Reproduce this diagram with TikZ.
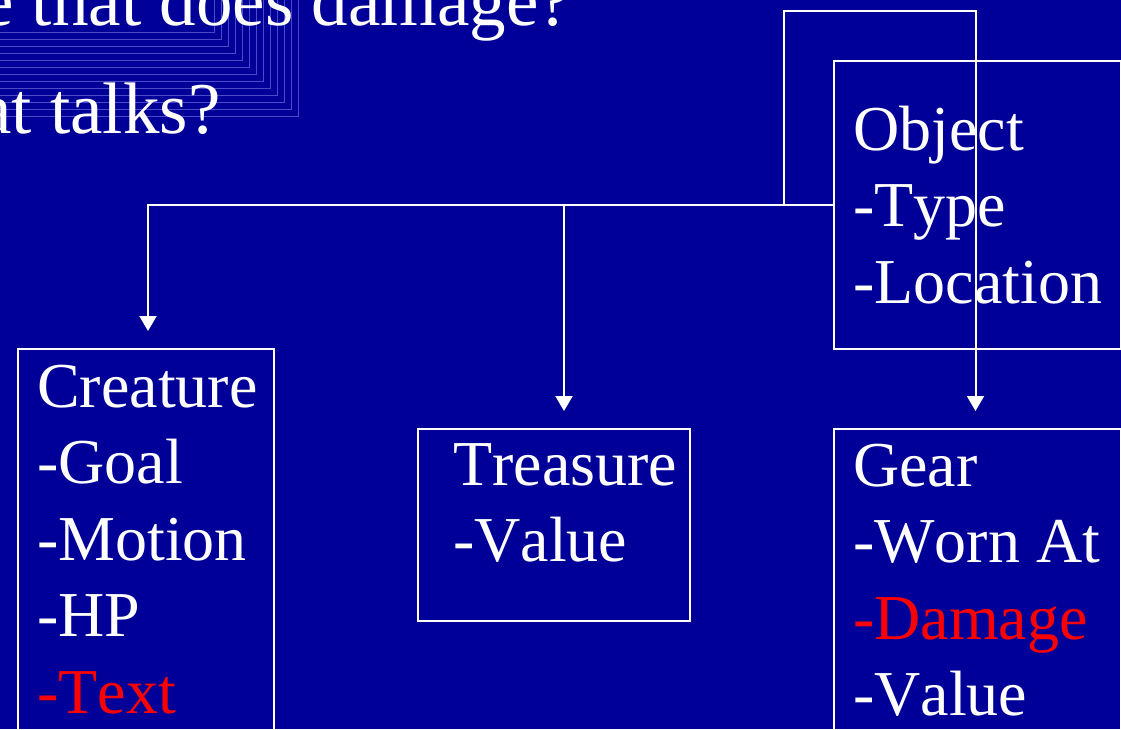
\documentclass[tikz,border=0pt]{standalone}
\usepackage{fontspec}
\setmainfont{Liberation Serif}[Kerning=Off]
\usetikzlibrary{arrows.meta}
\definecolor{bg}{RGB}{0,0,153}
\definecolor{stair}{RGB}{75,75,200}
\definecolor{hot}{RGB}{255,0,0}
\begin{document}
\begin{tikzpicture}[x=1pt,y=-1pt,
  wire/.style={draw=white, line width=2pt},
  arr/.style={wire, -{Triangle[width=17pt,length=15pt]}, shorten >=17pt},
  box/.style={draw=white, line width=2pt, inner sep=0pt, anchor=north west},
  txt/.style={anchor=base west, inner sep=0pt, text=white, font=\fontsize{64}{76.5}\selectfont},
  ttl/.style={anchor=base west, inner sep=0pt, text=white, font=\fontsize{73}{86}\selectfont},
  hotline/.style={text=hot}]
\useasboundingbox (0,0) rectangle (1121,729);
\fill[bg] (0,0) rectangle (1121,729);
\clip (0,0) rectangle (1121,729);
% stepped shadow lines
\foreach \i in {0,...,12} \draw[stair, line width=0.9pt] (0,32+7.05*\i) -| (214+7*\i,0);
% title fragments
\node[ttl] (t1) at (-19,25) {e that does damage?};
\node[ttl] (t2) at (-21,133) {at talks?};
% boxes
\node[box, minimum width=287pt, minimum height=288pt] (object) at (833,60) {};
\node[box, minimum width=256pt, minimum height=500pt] (creature) at (17,348) {};
\node[box, minimum width=272pt, minimum height=192pt] (treasure) at (417,428) {};
\node[box, minimum width=287pt, minimum height=400pt] (gear) at (833,428) {};
% texts
\node[txt] (o1) at (853,150) {Object};
\node[txt] (o2) at (853,226.5) {-Type};
\node[txt] (o3) at (853,303) {-Location};
\node[txt] (c1) at (37,407) {Creature};
\node[txt] (c2) at (37,483.5) {-Goal};
\node[txt] (c3) at (37,560) {-Motion};
\node[txt] (c4) at (37,636.5) {-HP};
\node[txt, hotline] (c5) at (37,713) {-Text};
\node[txt] (tr1) at (453,485) {Treasure};
\node[txt] (tr2) at (453,561.5) {-Value};
\node[txt] (g1) at (853,486) {Gear};
\node[txt] (g2) at (853,562.5) {-Worn At};
\node[txt, hotline] (g3) at (853,639) {-Damage};
\node[txt] (g4) at (853,715.5) {-Value};
% connectors
\coordinate (j1) at (564,204);
\coordinate (j2) at (784,204);
\coordinate (top) at (784,11);
\draw[arr] (object.west) -| ([xshift=2pt]creature.north);
\draw[arr] (j1) -- (j1 |- treasure.north);
\draw[arr] (j2) -- (top) -| ([xshift=-2pt]gear.north);
\end{tikzpicture}
\end{document}
